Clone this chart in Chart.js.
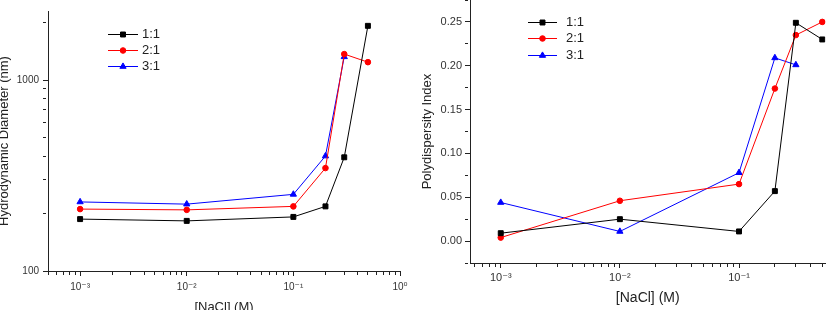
<!DOCTYPE html>
<html>
<head>
<meta charset="utf-8">
<script src="https://cdn.jsdelivr.net/npm/chart.js@4/dist/chart.umd.min.js"></script>
<style>
  html, body { margin: 0; padding: 0; background: #fff; overflow: hidden; width: 836px; height: 310px; }
  canvas { position: absolute; top: 0; }
  #sizeChart { left: -6px; }
  #pdiChart { left: 415px; }
</style>
</head>
<body>
<canvas id="sizeChart" width="421" height="320"></canvas>
<canvas id="pdiChart" width="421" height="320"></canvas>
<script>
(function() {
  'use strict';

  var conc = [0.001, 0.01, 0.1, 0.2, 0.3, 0.5];
  var ratios = ['1:1', '2:1', '3:1'];
  var colors = ['#000000', '#ff0000', '#0000ff'];
  var markers = ['rect', 'circle', 'triangle'];
  var markerSize = [3.5, 2.8, 3.6];

  // hydrodynamic diameter (nm)
  var size11 = [187, 183, 192, 218, 394, 1923];
  var size21 = [211, 209, 218, 346, 1368, 1241];
  var size31 = [230, 224, 252, 400, 1324];

  // polydispersity index
  var pdi11 = [0.009, 0.025, 0.011, 0.057, 0.249, 0.230];
  var pdi21 = [0.004, 0.046, 0.065, 0.174, 0.235, 0.250];
  var pdi31 = [0.044, 0.011, 0.078, 0.209, 0.201];

  var xTickValues = [0.001, 0.01, 0.1, 1];
  var xTickLabels = ['10⁻³', '10⁻²', '10⁻¹', '10⁰'];
  var sizeTickValues = [100, 1000];
  var sizeTickLabels = ['100', '1000'];
  var pdiTickValues = [0, 0.05, 0.1, 0.15, 0.2, 0.25];
  var pdiTickLabels = ['0.00', '0.05', '0.10', '0.15', '0.20', '0.25'];

  var fontFamily = "'Liberation Sans', Arial, 'DejaVu Sans', sans-serif";

  // labelled ticks get their text, all others an empty label (kept so their mark is drawn)
  function labelFor(values, labels) {
    return function(v) {
      for (var i = 0; i < values.length; i++) {
        if (Math.abs(v - values[i]) <= Math.abs(values[i]) * 1e-6 + 1e-9) return labels[i];
      }
      return '';
    };
  }

  // drop the 1.5 x 10^n steps and the range ends chart.js adds on log axes
  function wholeLogTicks(scale) {
    scale.ticks = scale.ticks.filter(function(t) {
      var m = t.value / Math.pow(10, Math.floor(Math.log10(t.value) + 1e-9));
      return Math.abs(m - Math.round(m)) < 1e-6 &&
        t.value >= scale.min * (1 - 1e-9) && t.value <= scale.max * (1 + 1e-9);
    });
  }

  // minor ticks: only the first 3px of the 5px mark is drawn
  function minorDash(ctx) {
    return ctx.tick && ctx.tick.label !== '' ? [] : [3, 50];
  }

  function axisGrid() {
    return {
      drawOnChartArea: false,
      drawTicks: true,
      tickLength: 5,
      tickWidth: 1,
      tickColor: '#222',
      tickBorderDash: minorDash
    };
  }

  function makeSets(series) {
    return series.map(function(vals, i) {
      return {
        label: ratios[i],
        data: vals.map(function(v, j) { return {x: conc[j], y: v}; }),
        borderColor: colors[i],
        backgroundColor: colors[i],
        pointBackgroundColor: colors[i],
        pointBorderColor: colors[i],
        pointStyle: markers[i],
        pointRadius: markerSize[i],
        pointBorderWidth: 1,
        borderWidth: 1,
        tension: 0
      };
    });
  }

  // line + marker legend inside the plot
  var lineLegend = {
    id: 'lineLegend',
    afterDatasetsDraw: function(chart, args, opts) {
      var ctx = chart.ctx;
      var area = chart.chartArea;
      ctx.save();
      ctx.font = opts.font;
      ctx.textBaseline = 'middle';
      chart.data.datasets.forEach(function(ds, i) {
        var y = Math.round(area.top + opts.top + i * opts.rowHeight) + 0.5;
        var x0 = area.left + opts.left;
        ctx.strokeStyle = ds.borderColor;
        ctx.fillStyle = ds.borderColor;
        ctx.lineWidth = 1;
        ctx.beginPath();
        ctx.moveTo(x0, y);
        ctx.lineTo(x0 + opts.sample, y);
        ctx.stroke();
        Chart.helpers.drawPoint(ctx, {
          pointStyle: ds.pointStyle, radius: ds.pointRadius, borderWidth: 1, rotation: 0
        }, x0 + opts.sample / 2, y);
        ctx.fillStyle = '#222';
        ctx.fillText(ds.label, x0 + opts.textAt, y);
      });
      ctx.restore();
    }
  };

  function baseOptions(o) {
    return {
      responsive: false,
      animation: false,
      events: [],
      layout: {padding: o.padding, autoPadding: false},
      plugins: {
        legend: {display: false},
        tooltip: {enabled: false},
        lineLegend: o.legend
      },
      scales: {
        x: {
          type: 'logarithmic',
          min: o.xMin,
          max: o.xMax,
          grid: axisGrid(),
          border: {color: '#222', width: 1},
          afterBuildTicks: wholeLogTicks,
          afterFit: function(s) {
            s.height = o.xHeight;
            s.paddingLeft = 0;
            s.paddingRight = 0;
          },
          ticks: {
            autoSkip: false,
            maxRotation: 0,
            padding: o.xTickPad,
            color: '#333',
            font: {family: fontFamily, size: o.tickFont},
            callback: labelFor(xTickValues, xTickLabels)
          },
          title: {
            display: true,
            text: '[NaCl] (M)',
            color: '#222',
            font: {family: fontFamily, size: o.xTitleFont},
            padding: {top: 0, bottom: o.xTitlePad}
          }
        },
        y: o.y
      }
    };
  }

  function fixYWidth(w) {
    return function(s) {
      s.width = w;
      s.paddingTop = 0;
      s.paddingBottom = 0;
    };
  }

  new Chart(document.getElementById('sizeChart'), {
    type: 'line',
    data: {datasets: makeSets([size11, size21, size31])},
    options: baseOptions({
      padding: {left: 0, right: 15, top: 11, bottom: 0},
      xMin: 0.0005, xMax: 1,
      xHeight: 49, xTickPad: 5, tickFont: 10, xTitleFont: 13, xTitlePad: 5,
      legend: {left: 60, top: 22.5, rowHeight: 16, sample: 30, textAt: 34, font: '13px ' + fontFamily},
      y: {
        type: 'logarithmic',
        min: 100,
        max: 2300,
        grid: axisGrid(),
        border: {color: '#222', width: 1},
        afterBuildTicks: wholeLogTicks,
        afterFit: fixYWidth(54),
        ticks: {
          autoSkip: false,
          padding: 4,
          color: '#333',
          font: {family: fontFamily, size: 10},
          callback: labelFor(sizeTickValues, sizeTickLabels)
        },
        title: {
          display: true,
          text: 'Hydrodynamic Diameter (nm)',
          color: '#222',
          font: {family: fontFamily, size: 13},
          padding: {top: 2.2, bottom: 0}
        }
      }
    }),
    plugins: [lineLegend]
  });

  new Chart(document.getElementById('pdiChart'), {
    type: 'line',
    data: {datasets: makeSets([pdi11, pdi21, pdi31])},
    options: baseOptions({
      padding: {left: 0, right: 10.5, top: 0, bottom: 0},
      xMin: 0.000552, xMax: 0.532,
      xHeight: 57, xTickPad: 3, tickFont: 11, xTitleFont: 14, xTitlePad: 13.6,
      legend: {left: 58, top: 21.5, rowHeight: 16.5, sample: 29, textAt: 38, font: '13px ' + fontFamily},
      y: {
        type: 'linear',
        min: -0.025,
        max: 0.275,
        grid: axisGrid(),
        border: {color: '#222', width: 1},
        afterFit: fixYWidth(55),
        ticks: {
          autoSkip: false,
          stepSize: 0.025,
          padding: 3,
          color: '#333',
          font: {family: fontFamily, size: 11},
          callback: labelFor(pdiTickValues, pdiTickLabels)
        },
        title: {
          display: true,
          text: 'Polydispersity Index',
          color: '#222',
          font: {family: fontFamily, size: 13},
          padding: {top: 4.2, bottom: 0}
        }
      }
    }),
    plugins: [lineLegend]
  });

}());
</script>
</body>
</html>
